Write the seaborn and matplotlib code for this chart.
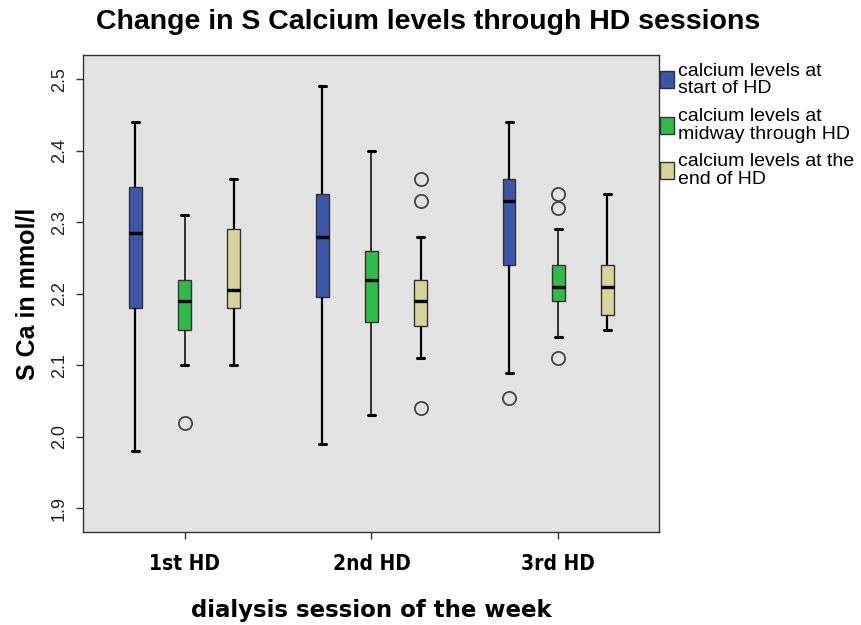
import numpy as np
import pandas as pd
import matplotlib
matplotlib.use("Agg")
import matplotlib.pyplot as plt
import seaborn as sns

# ---- data (rows: start, midway, end; cols: sessions) ----
sessions = ["1st HD", "2nd HD", "3rd HD"]
measures = ["calcium levels at\nstart of HD",
            "calcium levels at\nmidway through HD",
            "calcium levels at the\nend of HD"]
colors = ["#3b55a8", "#2fba4a", "#d6d39b"]

whisker_low = [[1.98, 1.99, 2.09],
               [2.10, 2.03, 2.14],
               [2.10, 2.11, 2.15]]
q1_vals = [[2.18, 2.195, 2.24],
           [2.15, 2.16, 2.19],
           [2.18, 2.155, 2.17]]
median_vals = [[2.285, 2.28, 2.33],
               [2.19, 2.22, 2.21],
               [2.205, 2.19, 2.21]]
q3_vals = [[2.35, 2.34, 2.36],
           [2.22, 2.26, 2.24],
           [2.29, 2.22, 2.24]]
whisker_high = [[2.44, 2.49, 2.44],
                [2.31, 2.40, 2.29],
                [2.36, 2.28, 2.34]]
outliers_low = [[[], [], [2.055]],
                [[2.02], [], [2.11]],
                [[], [2.04], []]]
outliers_high = [[[], [], []],
                 [[], [], [2.32, 2.34]],
                 [[], [2.33, 2.36], []]]


def observations(lo, q1, med, q3, hi, out_lo, out_hi):
    """Smallest set of observations whose Tukey box statistics equal the read values."""
    k = 1 + max(len(out_lo), len(out_hi))
    vals = sorted(out_lo) + [lo] + [q1] * (k - 1 - len(out_lo))
    vals += [q1] + [med] * (k - 1) + [med] + [med] * (k - 1) + [q3]
    vals += [q3] * (k - 1 - len(out_hi)) + [hi] + sorted(out_hi)
    return vals


rows = []
for h, m in enumerate(measures):
    for s, sess in enumerate(sessions):
        for v in observations(whisker_low[h][s], q1_vals[h][s], median_vals[h][s],
                              q3_vals[h][s], whisker_high[h][s],
                              outliers_low[h][s], outliers_high[h][s]):
            rows.append({"session": sess, "measure": m, "value": v})
df = pd.DataFrame(rows)

# ---- plot ----
sns.set_theme(style="white")
plt.rcParams["font.family"] = ["Liberation Sans", "DejaVu Sans"]
plt.rcParams["text.color"] = "black"
plt.rcParams["axes.labelcolor"] = "black"
plt.rcParams["xtick.color"] = "black"
plt.rcParams["ytick.color"] = "black"

fig = plt.figure(figsize=(8.62, 6.25), dpi=100)
ax = fig.add_axes([83 / 862, 1 - 532 / 625, (659 - 83) / 862, (532 - 55) / 625])
ax.set_facecolor("#e3e3e3")

sns.boxplot(data=df, x="session", y="value", hue="measure",
            order=sessions, hue_order=measures, palette=colors, saturation=1,
            width=0.79, gap=0.74, whis=1.5, linecolor="#333333", linewidth=1.0,
            ax=ax,
            medianprops=dict(color="black", linewidth=2.4),
            whiskerprops=dict(color="black", linewidth=1.6),
            capprops=dict(color="black", linewidth=2.2),
            flierprops=dict(marker="o", markersize=9.5, markerfacecolor="none",
                            markeredgecolor="#444444", markeredgewidth=1.3))

# midway whiskers appear thinner in the reference; caps are short
for i, cont in enumerate(ax.containers):
    if i == 1:
        for w in cont.whiskers:
            w.set_linewidth(1.1)
    for c in cont.caps:
        xd = np.asarray(c.get_xdata(), dtype=float)
        mid = xd.mean()
        c.set_xdata([mid - 0.019, mid + 0.019])

ax.set_xlim(-0.544, 2.539)
ax.set_ylim(1.867, 2.534)
yt = [1.9, 2.0, 2.1, 2.2, 2.3, 2.4, 2.5]
ax.set_yticks(yt)
ax.set_yticklabels([f"{t:.1f}" for t in yt], rotation=90, va="center",
                   fontsize=13, color="#222222")
ax.set_xticks(range(len(sessions)))
ax.set_xticklabels(sessions, fontsize=15, fontweight="bold",
                   family=["DejaVu Sans"], fontstretch="condensed")
ax.tick_params(axis="both", direction="out", length=5, width=1, color="#333333",
               left=True, bottom=True)
ax.tick_params(axis="y", pad=6)
ax.tick_params(axis="x", pad=11)

for sp in ax.spines.values():
    sp.set_color("#333333")
    sp.set_linewidth(1.0)

ax.set_xlabel("dialysis session of the week", fontsize=16.5, fontweight="bold",
              family=["DejaVu Sans"], labelpad=18)
ax.set_ylabel("S Ca in mmol/l", fontsize=18, fontweight="bold", labelpad=8)
fig.text(428 / 862, 1 - 22 / 625, "Change in S Calcium levels through HD sessions",
         ha="center", va="center", fontsize=20.5, fontweight="bold")

sns.move_legend(ax, "upper left", bbox_to_anchor=(0.997, 0.99), frameon=False,
                title=None, fontsize=14, handlelength=0.72, handleheight=0.95,
                handletextpad=0.22, labelspacing=0.55, borderaxespad=0.0,
                borderpad=0.15)
for t in ax.get_legend().get_texts():
    t.set_linespacing(1.05)

fig.savefig("out.png", dpi=100, facecolor="white")
